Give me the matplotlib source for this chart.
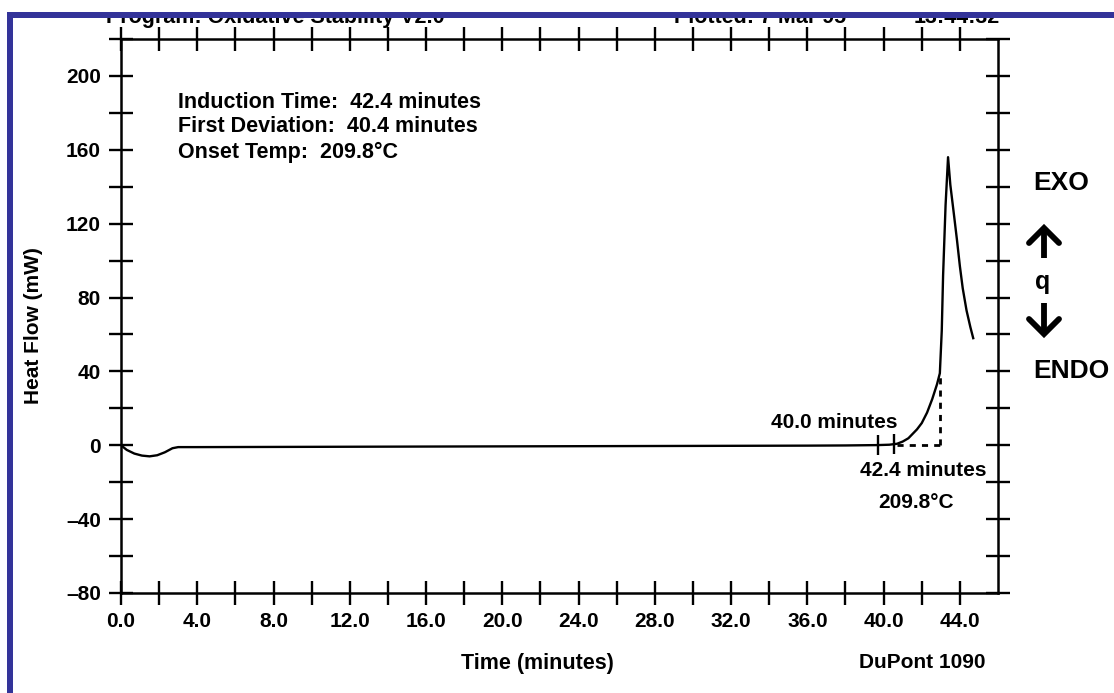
import numpy as np
import matplotlib
matplotlib.use("Agg")
import matplotlib.pyplot as plt
from matplotlib.patches import Rectangle
from matplotlib.lines import Line2D

# ======================== Data ========================
time_min = [0.0, 0.3, 0.7, 1.1, 1.5, 1.9, 2.3, 2.7, 3.0, 4.0, 8.0, 12.0, 16.0,
            20.0, 24.0, 28.0, 32.0, 36.0, 38.0, 39.7, 40.3, 40.7, 41.0, 41.3,
            41.75, 42.0, 42.28, 42.55, 42.8, 42.95, 43.05, 43.12, 43.25, 43.38,
            43.5, 43.7, 43.85, 44.0, 44.15, 44.35, 44.55, 44.7]
heat_flow = [0.0, -2.5, -4.5, -5.6, -6.0, -5.4, -3.8, -1.6, -1.0, -1.0, -0.9,
             -0.8, -0.7, -0.6, -0.5, -0.4, -0.3, -0.2, -0.1, 0.1, 0.3, 0.8,
             2.0, 3.8, 8.6, 12.0, 17.7, 25.0, 33.0, 39.0, 62.0, 92.0, 130.0,
             156.0, 141.0, 124.0, 111.0, 97.0, 85.0, 73.0, 64.0, 58.0]

first_dev_marks = [39.7, 40.55]
onset_time = 42.95
onset_value = 39.0
baseline_start = 40.7

x_ticks_major = np.arange(0, 46, 4.0)
y_ticks_major = np.arange(-80, 201, 40)

info_lines = ["Induction Time:  42.4 minutes",
              "First Deviation:  40.4 minutes",
              "Onset Temp:  209.8\u00b0C"]

# ======================== Figure ========================
W, H = 1114, 693
plt.rcParams['font.family'] = ['Liberation Sans', 'DejaVu Sans']
plt.rcParams['font.weight'] = 'bold'
fig = plt.figure(figsize=(W / 100, H / 100), dpi=100)
ax = fig.add_axes([121 / W, 1 - 593 / H, 877 / W, 554 / H])

ax.plot(time_min, heat_flow, color='black', lw=1.7, zorder=3)
ax.plot(first_dev_marks, [0.3, 0.6], ls='none', marker='|', ms=15, mew=1.7,
        color='black')
ax.plot([baseline_start, onset_time], [0, 0], color='black', lw=2.0,
        ls=(0, (2.2, 2.2)))
ax.plot([onset_time, onset_time], [0, onset_value], color='black', lw=2.0,
        ls=(0, (2.2, 2.2)))

ax.set_xlim(0, 46)
ax.set_ylim(-80, 220)
ax.set_xticks(x_ticks_major)
ax.set_xticks(np.arange(0, 46, 2.0), minor=True)
ax.set_yticks(y_ticks_major)
ax.set_yticks(np.arange(-80, 221, 20), minor=True)
ax.set_xticklabels([f"{v:.1f}" for v in x_ticks_major])
ax.set_yticklabels([f"{int(v)}".replace('-', '\u2013') for v in y_ticks_major])

for s in ax.spines.values():
    s.set_linewidth(1.8)
ax.tick_params(which='both', direction='inout', length=17, width=1.7,
               top=True, right=True, labelsize=15, pad=6)
ax.tick_params(axis='x', which='both', pad=5)

ax.text(37.4, 12.4, "40.0 minutes", ha='center', va='center', fontsize=15)
ax.text(42.1, -13.5, "42.4 minutes", ha='center', va='center', fontsize=15)
ax.text(41.7, -30.8, "209.8\u00b0C", ha='center', va='center', fontsize=15)

for i, line in enumerate(info_lines):
    fig.text(178 / W, 1 - (102 + 25 * i) / H, line, ha='left', va='center',
             fontsize=15.5)


# right side EXO / ENDO legend
def px(x, y):
    return x / W, 1 - y / H


def arrow(x, y_tip, y_tail, head_y):
    xs, ys = zip(px(x, y_tail), px(x, y_tip))
    fig.lines.append(Line2D(xs, ys, transform=fig.transFigure, color='black',
                            lw=4.2, solid_capstyle='butt'))
    hx, hy = zip(px(x - 15, head_y), px(x, y_tip), px(x + 15, head_y))
    fig.lines.append(Line2D(hx, hy, transform=fig.transFigure, color='black',
                            lw=4.2, solid_joinstyle='miter',
                            solid_capstyle='round'))


fig.text(*px(1033, 183), "EXO", ha='left', va='center', fontsize=19)
arrow(1044, 228, 258, 243)
fig.text(*px(1043, 282), "q", ha='center', va='center', fontsize=18)
arrow(1044, 334, 303, 319)
fig.text(*px(1033, 371), "ENDO", ha='left', va='center', fontsize=19)

fig.text(*px(34, 326), "Heat Flow (mW)", rotation=90, ha='center',
         va='center', fontsize=15)
fig.text(*px(537, 663), "Time (minutes)", ha='center', va='center',
         fontsize=15.5)
fig.text(*px(922, 663), "DuPont 1090", ha='center', va='center', fontsize=15)

# header, mostly hidden by the frame
fig.text(*px(106, 23), "Program: Oxidative Stability V2.0",
         ha='left', va='baseline', fontsize=15.5, zorder=1)
fig.text(*px(674, 23), "Plotted: 7 Mar 95", ha='left', va='baseline',
         fontsize=15.5, zorder=1)
fig.text(*px(1000, 23), "13:44:32", ha='right', va='baseline',
         fontsize=15.5, zorder=1)

blue = '#333399'
fig.patches.append(Rectangle((0, 1 - 12 / H), 1, 12 / H, transform=fig.transFigure,
                             facecolor='white', edgecolor='none', zorder=10))
fig.patches.append(Rectangle((7 / W, 1 - 18 / H), 1, 6 / H, transform=fig.transFigure,
                             facecolor=blue, edgecolor='none', zorder=11))
fig.patches.append(Rectangle((7 / W, 0), 6 / W, 1 - 12 / H, transform=fig.transFigure,
                             facecolor=blue, edgecolor='none', zorder=11))

fig.savefig("out.png", dpi=100)
